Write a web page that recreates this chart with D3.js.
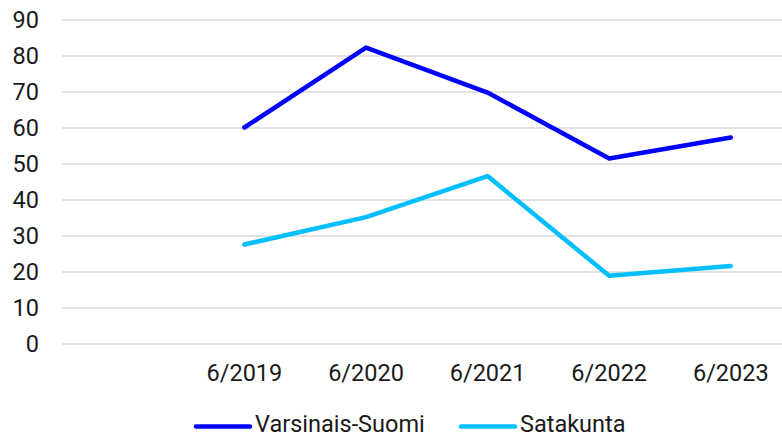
<!DOCTYPE html>
<html>
<head>
<meta charset="utf-8">
<script src="https://cdn.jsdelivr.net/npm/d3@7"></script>
<style>
  body { margin: 0; background: #fff; }
  text { font-family: Roboto, "Noto Sans", sans-serif; fill: #1a1a1a; }
</style>
</head>
<body>
<div id="chart"></div>
<script>
// first slot is empty in the original chart
const categories = ['', '6/2019', '6/2020', '6/2021', '6/2022', '6/2023'];
const varsinais = [null, 60, 82.2, 69.7, 51.4, 57.2];
const satakunta = [null, 27.5, 35.1, 46.5, 18.8, 21.5];
const yTicks = [0, 10, 20, 30, 40, 50, 60, 70, 80, 90];

const series = [
  { name: 'Varsinais-Suomi', values: varsinais, color: '#0000ff' },
  { name: 'Satakunta', values: satakunta, color: '#00bfff' },
];

const width = 782;
const height = 435;
const plotLeft = 62;
const plotTop = 19.5;
const plotBottom = 343.5;
const fontSize = '23.5px';

const svg = d3.select('#chart')
  .append('svg')
  .attr('width', width)
  .attr('height', height);

const x = d3.scaleBand()
  .domain(categories)
  .range([plotLeft, plotLeft + 121.6 * categories.length]);

const y = d3.scaleLinear()
  .domain([0, 90])
  .range([plotBottom, plotTop]);

// grid lines
svg.append('g')
  .attr('transform', `translate(${plotLeft}, 0)`)
  .call(d3.axisLeft(y).tickValues(yTicks).tickSize(-(width - plotLeft)).tickFormat(''))
  .call(g => g.select('.domain').remove())
  .call(g => g.selectAll('line').attr('stroke', '#d9d9d9').attr('stroke-width', 1.5));

// y labels
svg.append('g')
  .attr('transform', `translate(${plotLeft}, 0)`)
  .call(d3.axisLeft(y).tickValues(yTicks).tickSize(0).tickPadding(23))
  .call(g => g.select('.domain').remove())
  .call(g => g.selectAll('text').style('font-size', fontSize).attr('fill', '#1a1a1a'));

// x labels
svg.append('g')
  .attr('transform', `translate(0, ${plotBottom})`)
  .call(d3.axisBottom(x).tickSize(0).tickPadding(21))
  .call(g => g.select('.domain').remove())
  .call(g => g.selectAll('text').style('font-size', fontSize).attr('fill', '#1a1a1a'));

const line = d3.line()
  .defined(d => d.v !== null)
  .x(d => x(d.c) + x.bandwidth() / 2)
  .y(d => y(d.v));

series.forEach(s => {
  svg.append('path')
    .datum(categories.map((c, i) => ({ c: c, v: s.values[i] })))
    .attr('fill', 'none')
    .attr('stroke', s.color)
    .attr('stroke-width', 4.5)
    .attr('stroke-linecap', 'round')
    .attr('stroke-linejoin', 'round')
    .attr('d', line);
});

// legend
const legendX = [196, 461];
const legend = svg.append('g');
series.forEach((s, i) => {
  legend.append('line')
    .attr('x1', legendX[i]).attr('x2', legendX[i] + 54)
    .attr('y1', 426.5).attr('y2', 426.5)
    .attr('stroke', s.color)
    .attr('stroke-width', 4.5)
    .attr('stroke-linecap', 'round');
  legend.append('text')
    .attr('x', legendX[i] + 59)
    .attr('y', 432)
    .style('font-size', fontSize)
    .text(s.name);
});
</script>
</body>
</html>
